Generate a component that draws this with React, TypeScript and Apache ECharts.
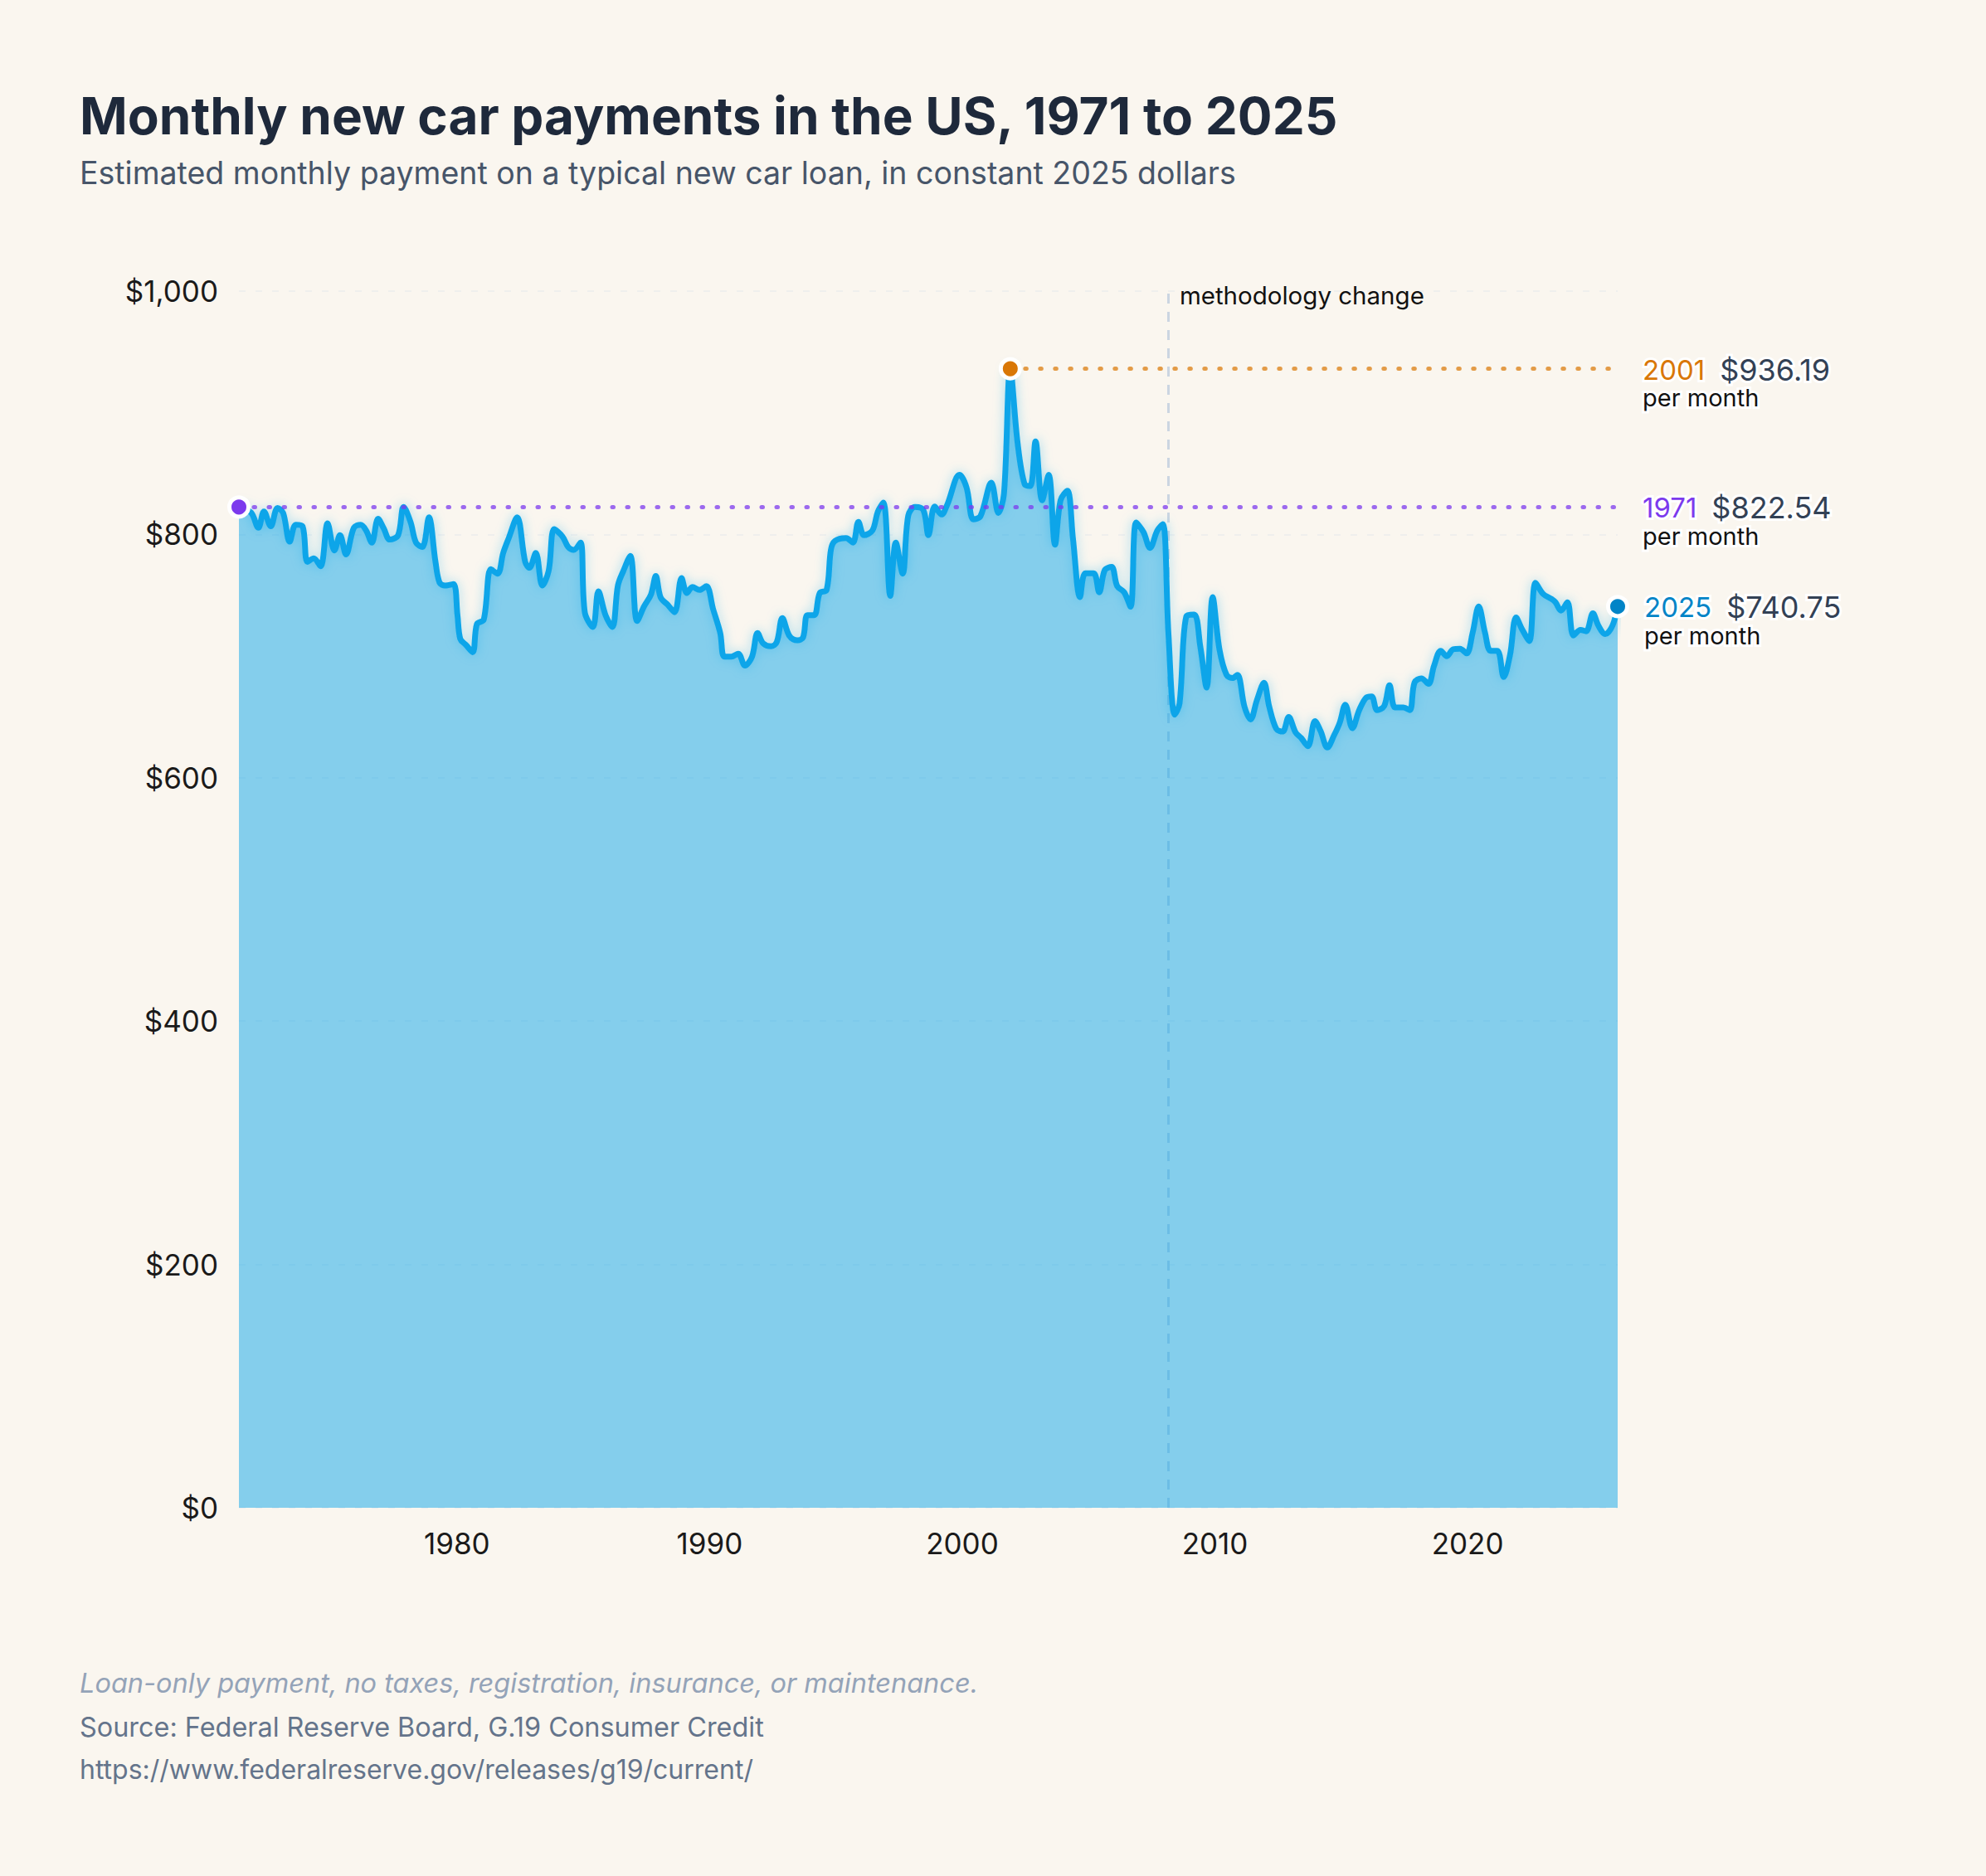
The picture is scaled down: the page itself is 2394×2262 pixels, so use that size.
import React, { useEffect, useRef } from "react";
import * as echarts from "echarts";

// Estimated monthly payment (constant 2025 dollars), decimal year -> dollars
const years = [
  1971.37, 1971.85, 1972.14, 1972.36, 1972.63, 1972.9, 1973.12, 1973.38, 1973.62, 1973.89,
  1974.08, 1974.33, 1974.6, 1974.88, 1975.15, 1975.37, 1975.61, 1975.92, 1976.19, 1976.41,
  1976.63, 1976.88, 1977.1, 1977.34, 1977.67, 1977.89, 1978.16, 1978.38, 1978.63, 1978.89,
  1979.15, 1979.31, 1979.53, 1979.86, 1980.02, 1980.13, 1980.35, 1980.62, 1980.79, 1981.06,
  1981.34, 1981.61, 1981.83, 1982.05, 1982.38, 1982.7, 1982.87, 1983.12, 1983.38, 1983.63,
  1983.85, 1984.18, 1984.4, 1984.62, 1984.89, 1985.06, 1985.38, 1985.6, 1985.88, 1986.15,
  1986.37, 1986.59, 1986.86, 1987.13, 1987.41, 1987.68, 1987.87, 1988.06, 1988.34, 1988.61,
  1988.89, 1989.1, 1989.32, 1989.6, 1989.87, 1990.14, 1990.42, 1990.58, 1990.86, 1991.13,
  1991.4, 1991.68, 1991.9, 1992.12, 1992.44, 1992.66, 1992.88, 1993.16, 1993.48, 1993.7,
  1993.87, 1994.14, 1994.36, 1994.63, 1994.8, 1994.96, 1995.4, 1995.67, 1995.89, 1996.11,
  1996.44, 1996.66, 1996.88, 1997.15, 1997.37, 1997.64, 1997.86, 1998.13, 1998.46, 1998.66,
  1998.91, 1999.18, 1999.4, 1999.89, 2000.17, 2000.44, 2000.72, 2001.15, 2001.43, 2001.65,
  2001.9, 2002.19, 2002.47, 2002.69, 2002.9, 2003.16, 2003.42, 2003.67, 2003.89, 2004.16,
  2004.38, 2004.66, 2004.87, 2005.2, 2005.42, 2005.64, 2005.91, 2006.13, 2006.41, 2006.66,
  2006.88, 2007.17, 2007.43, 2007.72, 2007.94, 2008.16, 2008.41, 2008.6, 2008.87, 2009.18,
  2009.42, 2009.67, 2009.91, 2010.18, 2010.46, 2010.7, 2010.89, 2011.17, 2011.41, 2011.66,
  2011.94, 2012.15, 2012.43, 2012.68, 2012.92, 2013.19, 2013.41, 2013.68, 2013.96, 2014.18,
  2014.45, 2014.72, 2014.94, 2015.16, 2015.44, 2015.71, 2015.98, 2016.2, 2016.42, 2016.7,
  2016.91, 2017.13, 2017.46, 2017.71, 2017.9, 2018.17, 2018.45, 2018.67, 2018.94, 2019.18,
  2019.43, 2019.7, 2019.96, 2020.2, 2020.44, 2020.69, 2020.91, 2021.18, 2021.43, 2021.68,
  2021.92, 2022.17, 2022.44, 2022.69, 2022.99, 2023.32, 2023.48, 2023.7, 2023.95, 2024.19,
  2024.47, 2024.69, 2024.96, 2025.18, 2025.45, 2025.73, 2025.94,
];

const payments = [
  822.54, 818, 805.5, 818.9, 806.7, 821.8, 817.7, 794.1, 808, 806.7,
  777.5, 780.4, 773.9, 809.2, 786.8, 799.4, 783.6, 805.5, 808, 803.1,
  793.3, 812.8, 805, 795.8, 799.4, 822.6, 810.4, 793.3, 789.7, 814,
  777.5, 760.5, 758, 759.2, 733.7, 714.2, 709.3, 703.2, 726.4, 730,
  771.4, 767.8, 784.8, 797, 814, 777.5, 772.6, 784.8, 758, 770.2,
  804.3, 798.2, 789.7, 787.3, 793.3, 736.1, 723.9, 753.2, 733.7, 723.9,
  758, 770.2, 782.4, 728.8, 741, 750.7, 765.8, 748.3, 742.2, 736.1,
  764.1, 751.9, 756.8, 754.4, 757.5, 738.5, 719, 699.6, 699.6, 702,
  692.2, 699.6, 719, 710.5, 708.1, 711.7, 731.2, 716.6, 713, 715.4,
  733.7, 733.7, 751.9, 754.4, 787.3, 794.6, 797, 793.3, 810.4, 799.4,
  803.1, 818.9, 826.2, 749.5, 793.3, 767.8, 815.3, 822.6, 820.1, 799.4,
  822.9, 816.4, 824.2, 849, 838.5, 812.4, 815, 842.5, 817.7, 833.3,
  936.19, 875.1, 841.2, 839.8, 876.4, 828.1, 849, 791.6, 828.1, 835.9,
  796.8, 748.5, 768.1, 768.1, 752.4, 770.7, 773.3, 757.6, 752.4, 740.6,
  809.8, 802, 788.9, 803.3, 808.5, 718.5, 651.9, 661.1, 732.8, 734.1,
  708, 674.1, 748.5, 705.4, 684.5, 682, 684.5, 658.4, 648, 663.7,
  678, 658.4, 640.2, 638, 649.9, 637.4, 632.8, 626, 646.5, 638.5,
  624.9, 635.1, 645.3, 660.1, 640.8, 655.6, 665.8, 666.9, 655.6, 659,
  676, 657.8, 657.8, 655.6, 678.3, 681.7, 677.2, 691.9, 704.4, 699.9,
  705.6, 706, 702.2, 719.2, 740.8, 719.2, 704.4, 704.4, 682.8, 701,
  731.7, 721.5, 712.4, 760.2, 751.1, 747, 744.2, 737.4, 744.2, 717,
  721.5, 720.4, 735.1, 724.9, 718.1, 724.9, 740.75,
];

const yTickValues = [0, 200, 400, 600, 800, 1000];
const xTickYears = [1980, 1990, 2000, 2010, 2020];
const methodologyYear = 2008.14;

// First reading, all-time high, latest reading
const highlightColors = ["#7c3aed", "#d97706", "#0284c7"];
const refLineColors = ["rgba(124,58,237,0.75)", "rgba(217,119,6,0.72)"];

const FONT = 'Inter, "Noto Sans", "DejaVu Sans", sans-serif';

const money = (v: number) => "$" + v.toLocaleString("en-US");

export default function App() {
  const ref = useRef<HTMLDivElement | null>(null);

  useEffect(() => {
    if (!ref.current) return;
    const chart = echarts.init(ref.current, undefined, { renderer: "svg" });

    const data = years.map((y, i) => [y, payments[i]]);
    const lastIdx = years.length - 1;
    let maxIdx = 0;
    payments.forEach((v, i) => {
      if (v > payments[maxIdx]) maxIdx = i;
    });
    const picks = [0, maxIdx, lastIdx];

    const halo = { textBorderColor: "#ffffff", textBorderWidth: 6 };
    const richFor = (color: string) => ({
      yr: { color, fontSize: 33, fontFamily: FONT, lineHeight: 38, ...halo },
      val: { color: "#334155", fontSize: 36, fontFamily: FONT, lineHeight: 38, padding: [0, 0, 0, 18], ...halo },
      pm: { color: "#111111", fontSize: 29, fontFamily: FONT, lineHeight: 30, ...halo },
    });
    const labelText = (i: number) =>
      `{yr|${Math.floor(years[i])}}{val|$${payments[i].toFixed(2)}}\n{pm|per month}`;

    // Dotted reference lines for the first reading and the peak
    const refLines = picks.slice(0, 2).map((idx, k) => [
      {
        coord: [years[idx], payments[idx]],
        lineStyle: { color: refLineColors[k], width: 5, type: [1.5, 16.5], cap: "round" },
        label: {
          show: true,
          position: "end",
          distance: 30,
          padding: [32, 0, 0, 0],
          formatter: labelText(idx),
          rich: richFor(highlightColors[k]),
        },
      },
      { coord: [years[lastIdx], payments[idx]] },
    ]);

    const dots = picks.map((idx, k) => ({
      coord: [years[idx], payments[idx]],
      symbol: "circle",
      symbolSize: 23,
      itemStyle: { color: highlightColors[k], borderColor: "#ffffff", borderWidth: 5 },
      label:
        k === 2
          ? {
              show: true,
              position: "right",
              distance: 18,
              padding: [32, 0, 0, 0],
              formatter: labelText(idx),
              rich: richFor(highlightColors[k]),
            }
          : { show: false },
    }));

    chart.setOption({
      animation: false,
      backgroundColor: "#faf6ef",
      grid: { left: 288, right: 444, top: 351, bottom: 444 },
      xAxis: {
        type: "value",
        min: years[0],
        max: years[lastIdx],
        axisLine: { show: false },
        axisTick: { show: false },
        splitLine: { show: false },
        axisLabel: {
          customValues: xTickYears,
          formatter: (v: number) => String(Math.round(v)),
          color: "#1a1a1a",
          fontSize: 35,
          fontFamily: FONT,
          margin: 25,
        },
      },
      yAxis: {
        type: "value",
        min: yTickValues[0],
        max: yTickValues[yTickValues.length - 1],
        interval: 200,
        axisLine: { show: false },
        axisTick: { show: false },
        axisLabel: {
          formatter: (v: number) => money(v),
          color: "#1a1a1a",
          fontSize: 35,
          fontFamily: FONT,
          margin: 25,
        },
        splitLine: {
          lineStyle: { color: "rgba(214,222,232,0.3)", width: 2, type: [8, 12] },
        },
      },
      graphic: [
        {
          type: "text",
          x: 96,
          y: 139,
          style: {
            text: "Monthly new car payments in the US, 1971 to 2025",
            fill: "#1e293b",
            fontSize: 62,
            fontWeight: 700,
            fontFamily: FONT,
            align: "left",
            verticalAlign: "middle",
          },
        },
        {
          type: "text",
          x: 96,
          y: 208,
          style: {
            text: "Estimated monthly payment on a typical new car loan, in constant 2025 dollars",
            fill: "#475569",
            fontSize: 37.5,
            fontFamily: FONT,
            align: "left",
            verticalAlign: "middle",
          },
        },
        {
          type: "text",
          x: 96,
          y: 2029,
          style: {
            text: "Loan-only payment, no taxes, registration, insurance, or maintenance.",
            fill: "#94a3b8",
            fontSize: 32.5,
            fontStyle: "italic",
            fontFamily: FONT,
            align: "left",
            verticalAlign: "middle",
          },
        },
        {
          type: "text",
          x: 96,
          y: 2082,
          style: {
            text: "Source: Federal Reserve Board, G.19 Consumer Credit",
            fill: "#64748b",
            fontSize: 32.4,
            fontFamily: FONT,
            align: "left",
            verticalAlign: "middle",
          },
        },
        {
          type: "text",
          x: 96,
          y: 2133,
          style: {
            text: "https://www.federalreserve.gov/releases/g19/current/",
            fill: "#64748b",
            fontSize: 32,
            fontFamily: FONT,
            align: "left",
            verticalAlign: "middle",
          },
        },
      ],
      series: [
        {
          type: "line",
          data,
          z: 3,
          smooth: 0.35,
          symbol: "none",
          silent: true,
          lineStyle: {
            color: "#0ea5e9",
            width: 7,
            shadowBlur: 14,
            shadowColor: "rgba(14,165,233,0.35)",
          },
          areaStyle: { color: "#0ea5e9", opacity: 0.5 },
          markLine: {
            z: 5,
            silent: true,
            symbol: ["none", "none"],
            data: refLines,
          },
          markPoint: {
            z: 6,
            silent: true,
            data: dots,
          },
        },
        {
          // Methodology break marker, drawn beneath the area
          type: "line",
          data: [],
          silent: true,
          markLine: {
            z: 1,
            silent: true,
            symbol: ["none", "none"],
            label: { show: false },
            lineStyle: { color: "#cbd5e1", width: 3, type: [12, 10] },
            data: [{ xAxis: methodologyYear }],
          },
          markPoint: {
            z: 6,
            silent: true,
            symbol: "circle",
            symbolSize: 0,
            data: [{ coord: [methodologyYear, yTickValues[yTickValues.length - 1]] }],
            label: {
              show: true,
              position: "right",
              distance: 14,
              offset: [0, 5],
              formatter: "methodology change",
              color: "#111111",
              fontSize: 29.5,
              fontFamily: FONT,
            },
          },
        },
      ],
    });

    return () => chart.dispose();
  }, []);

  return (
    <div
      ref={ref}
      style={{ position: "absolute", left: 0, top: 0, width: 2394, height: 2262, background: "#faf6ef" }}
    />
  );
}
